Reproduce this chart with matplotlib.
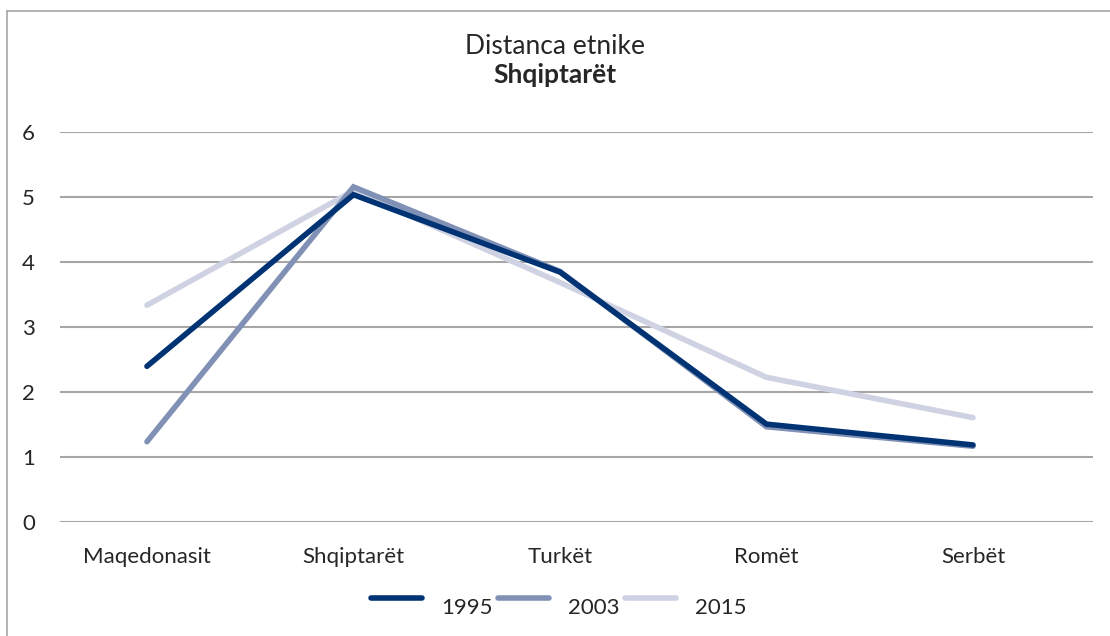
import matplotlib.pyplot as plt
from matplotlib.lines import Line2D

# data
categories = ["Maqedonasit", "Shqiptarët", "Turkët", "Romët", "Serbët"]
years = ["1995", "2003", "2015"]
v1995 = [2.40, 5.04, 3.85, 1.51, 1.19]
v2003 = [1.24, 5.16, 3.86, 1.47, 1.17]
v2015 = [3.34, 5.10, 3.69, 2.23, 1.61]

colors = ["#003373", "#8091b5", "#cfd2e3"]

plt.rcParams["font.family"] = ["Lato", "DejaVu Sans"]

fig = plt.figure(figsize=(11.1, 6.36), dpi=100)
ax = fig.add_axes([60 / 1110, 1 - 522.3 / 636, 1033 / 1110, 390 / 636])

x = list(range(len(categories)))
series = [v1995, v2003, v2015]
for vals, c, z in zip(series, colors, [5, 4, 3]):
    ax.plot(x, vals, color=c, lw=4.0, solid_capstyle="round",
            solid_joinstyle="miter", zorder=z)

ax.set_xlim(-0.421, 4.581)
ax.set_ylim(0, 6)
ax.set_yticks(range(7))
ax.set_xticks(x)
ax.set_xticklabels(categories)
ax.yaxis.grid(True, color="#a6a6a6", lw=1.5)
ax.set_axisbelow(True)
for s in ax.spines.values():
    s.set_visible(False)
ax.tick_params(length=0, labelsize=16, colors="#262626")
ax.tick_params(axis="y", pad=18)
ax.tick_params(axis="x", pad=18)

fig.text(0.5, 1 - 47 / 636, "Distanca etnike", ha="center", va="center",
         fontsize=19, color="#262626")
fig.text(0.5, 1 - 75 / 636, "Shqiptarët", ha="center", va="center",
         fontsize=19, fontweight="bold", color="#262626")

handles = [Line2D([], [], color=c, lw=4.0, solid_capstyle="round") for c in colors]
leg = fig.legend(handles, years, loc="center",
                 bbox_to_anchor=(559 / 1110, 1 - 600 / 636),
                 ncol=3, frameon=False, fontsize=16, handlelength=2.3,
                 columnspacing=0.25, handletextpad=0.85, labelcolor="#262626")
# labels sit a little below their line samples in the original
for t in leg.get_texts():
    t.set_y(-8)

# outer chart frame (top and left edges visible)
fig.add_artist(Line2D([7 / 1110, 7 / 1110], [0, 1 - 11 / 636],
                      color="#a6a6a6", lw=1.2, transform=fig.transFigure))
fig.add_artist(Line2D([7 / 1110, 1], [1 - 11 / 636, 1 - 11 / 636],
                      color="#a6a6a6", lw=1.2, transform=fig.transFigure))

fig.savefig("out.png", dpi=100)
